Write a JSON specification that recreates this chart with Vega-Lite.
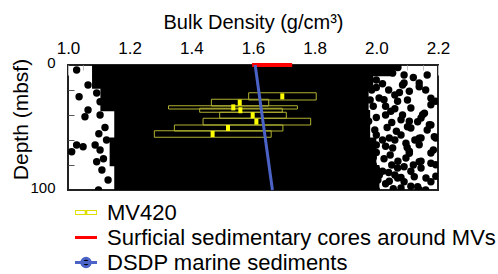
{
  "$schema": "https://vega.github.io/schema/vega-lite/v6.json",
  "width": 370,
  "height": 125,
  "autosize": {"type": "none"},
  "padding": {"left": 68, "top": 65, "right": 60, "bottom": 84},
  "background": "white",
  "config": {
    "font": "Liberation Sans",
    "view": {"stroke": "#222222", "strokeWidth": 2},
    "axis": {
      "domain": false,
      "grid": false,
      "zindex": 1,
      "tickColor": "#c0c0c0",
      "tickWidth": 1,
      "labelColor": "#000000",
      "titleColor": "#000000",
      "titleFontWeight": "normal",
      "labelFont": "Liberation Sans",
      "titleFont": "Liberation Sans",
      "labelOverlap": false
    }
  },
  "datasets": {
    "core": [
      {"d1": 0, "d2": 9, "lo": 1.078, "hi": 2.06},
      {"d1": 8, "d2": 19, "lo": 1.078, "hi": 1.99},
      {"d1": 18, "d2": 37, "lo": 1.105, "hi": 1.975},
      {"d1": 36, "d2": 59, "lo": 1.15, "hi": 1.98},
      {"d1": 58, "d2": 81, "lo": 1.135, "hi": 2.0},
      {"d1": 80, "d2": 100, "lo": 1.15, "hi": 2.01}
    ],
    "dots": [
      {"bd": 1.028, "depth": 4}, {"bd": 1.065, "depth": 16}, {"bd": 1.036, "depth": 25.4},
      {"bd": 1.093, "depth": 22.4}, {"bd": 1.065, "depth": 36}, {"bd": 1.055, "depth": 41.4},
      {"bd": 1.104, "depth": 40}, {"bd": 1.028, "depth": 64}, {"bd": 1.049, "depth": 65.4},
      {"bd": 1.088, "depth": 64}, {"bd": 1.104, "depth": 68}, {"bd": 1.093, "depth": 77.4},
      {"bd": 1.012, "depth": 69.4}, {"bd": 1.11, "depth": 84}, {"bd": 1.099, "depth": 100},
      {"bd": 1.104, "depth": 29.4}, {"bd": 1.12, "depth": 50}, {"bd": 1.125, "depth": 60},
      {"bd": 1.13, "depth": 92}, {"bd": 1.1, "depth": 55}, {"bd": 1.115, "depth": 75},
      {"bd": 2.031, "depth": 5}, {"bd": 2.053, "depth": 6.4}, {"bd": 2.09, "depth": 14.4},
      {"bd": 2.139, "depth": 14.4}, {"bd": 2.107, "depth": 21}, {"bd": 2.193, "depth": 29},
      {"bd": 2.177, "depth": 31.8}, {"bd": 2.15, "depth": 39.8}, {"bd": 2.112, "depth": 34.4},
      {"bd": 2.069, "depth": 29}, {"bd": 2.047, "depth": 37}, {"bd": 2.025, "depth": 27.8},
      {"bd": 2.009, "depth": 26.4}, {"bd": 2.08, "depth": 43.8}, {"bd": 2.107, "depth": 45},
      {"bd": 2.145, "depth": 42.4}, {"bd": 2.172, "depth": 47.8}, {"bd": 2.112, "depth": 50.4},
      {"bd": 2.145, "depth": 58.4}, {"bd": 2.193, "depth": 58.4}, {"bd": 2.139, "depth": 63.8},
      {"bd": 2.107, "depth": 69}, {"bd": 2.053, "depth": 66.4}, {"bd": 2.042, "depth": 58.4},
      {"bd": 2.177, "depth": 70.4}, {"bd": 2.145, "depth": 77}, {"bd": 2.096, "depth": 74.4},
      {"bd": 2.145, "depth": 82.4}, {"bd": 2.193, "depth": 79.8}, {"bd": 2.069, "depth": 82.4},
      {"bd": 2.112, "depth": 85}, {"bd": 2.161, "depth": 90.4}, {"bd": 2.112, "depth": 97},
      {"bd": 2.139, "depth": 99.8}, {"bd": 2.08, "depth": 98.4}, {"bd": 2.042, "depth": 93},
      {"bd": 2.069, "depth": 90.4}, {"bd": 2.193, "depth": 89}, {"bd": 2.085, "depth": 16},
      {"bd": 2.139, "depth": 17.4}, {"bd": 2.177, "depth": 26.6}, {"bd": 2.101, "depth": 28},
      {"bd": 2.156, "depth": 38.6}, {"bd": 2.085, "depth": 40}, {"bd": 2.134, "depth": 45.4},
      {"bd": 2.177, "depth": 48}, {"bd": 2.101, "depth": 49.4}, {"bd": 2.139, "depth": 58.6},
      {"bd": 2.188, "depth": 57.4}, {"bd": 2.096, "depth": 62.6}, {"bd": 2.107, "depth": 70.6},
      {"bd": 2.139, "depth": 77.4}, {"bd": 2.177, "depth": 78.6}, {"bd": 2.09, "depth": 81.4},
      {"bd": 2.123, "depth": 89.4}, {"bd": 2.09, "depth": 93.4}, {"bd": 2.177, "depth": 93.4},
      {"bd": 2.134, "depth": 97.4}, {"bd": 1.975, "depth": 10}, {"bd": 1.985, "depth": 20},
      {"bd": 1.99, "depth": 33}, {"bd": 1.975, "depth": 45}, {"bd": 1.995, "depth": 52},
      {"bd": 1.98, "depth": 62}, {"bd": 2.0, "depth": 70}, {"bd": 1.99, "depth": 80},
      {"bd": 2.01, "depth": 88}, {"bd": 1.995, "depth": 96}, {"bd": 2.02, "depth": 15},
      {"bd": 2.03, "depth": 40}, {"bd": 2.025, "depth": 75}, {"bd": 2.035, "depth": 50},
      {"bd": 2.02, "depth": 85}, {"bd": 2.05, "depth": 3}, {"bd": 2.0, "depth": 12},
      {"bd": 2.06, "depth": 24}, {"bd": 1.98, "depth": 28}, {"bd": 2.05, "depth": 46},
      {"bd": 2.0, "depth": 56}, {"bd": 2.06, "depth": 60}, {"bd": 2.03, "depth": 65},
      {"bd": 1.99, "depth": 74}, {"bd": 2.05, "depth": 80}, {"bd": 2.03, "depth": 95},
      {"bd": 2.06, "depth": 88}, {"bd": 2.0, "depth": 100},
      {"bd": 2.07, "depth": 2}, {"bd": 2.09, "depth": 8}, {"bd": 2.0, "depth": 18},
      {"bd": 2.04, "depth": 20}, {"bd": 2.075, "depth": 22}, {"bd": 2.03, "depth": 33},
      {"bd": 2.06, "depth": 35}, {"bd": 2.0, "depth": 42}, {"bd": 2.065, "depth": 53},
      {"bd": 2.02, "depth": 60}, {"bd": 2.08, "depth": 56}, {"bd": 2.0, "depth": 64},
      {"bd": 2.045, "depth": 72}, {"bd": 2.07, "depth": 77}, {"bd": 2.0, "depth": 83},
      {"bd": 2.04, "depth": 86}, {"bd": 2.08, "depth": 90}, {"bd": 2.005, "depth": 92},
      {"bd": 2.055, "depth": 99}, {"bd": 2.1, "depth": 66}, {"bd": 2.12, "depth": 10},
      {"bd": 2.165, "depth": 8}, {"bd": 2.16, "depth": 20}, {"bd": 2.125, "depth": 60},
      {"bd": 2.12, "depth": 80}, {"bd": 2.16, "depth": 100}, {"bd": 2.185, "depth": 68},
      {"bd": 2.165, "depth": 52}
    ],
    "mv420": [
      {"series": "MV420", "lo": 1.586, "hi": 1.805, "top": 22.2, "bot": 28, "bd": 1.695, "depth": 25.1},
      {"series": "MV420", "lo": 1.465, "hi": 1.651, "top": 27.4, "bot": 32.8, "bd": 1.557, "depth": 30.1},
      {"series": "MV420", "lo": 1.326, "hi": 1.744, "top": 32.6, "bot": 35.2, "bd": 1.536, "depth": 33.9},
      {"series": "MV420", "lo": 1.427, "hi": 1.695, "top": 34.6, "bot": 37.8, "bd": 1.559, "depth": 36.2},
      {"series": "MV420", "lo": 1.492, "hi": 1.708, "top": 37.8, "bot": 42.6, "bd": 1.599, "depth": 40.2},
      {"series": "MV420", "lo": 1.438, "hi": 1.787, "top": 42.6, "bot": 48, "bd": 1.611, "depth": 45.3},
      {"series": "MV420", "lo": 1.345, "hi": 1.697, "top": 48, "bot": 52.8, "bd": 1.519, "depth": 50.4},
      {"series": "MV420", "lo": 1.28, "hi": 1.659, "top": 52.6, "bot": 57.8, "bd": 1.469, "depth": 55.2}
    ],
    "surf": [
      {"series": "Surficial sedimentary cores around MVs", "lo": 1.597, "hi": 1.727, "depth": 0}
    ],
    "fit": [
      {"series": "DSDP marine sediments", "bd": 1.607, "depth": 0},
      {"series": "DSDP marine sediments", "bd": 1.663, "depth": 100}
    ]
  },
  "resolve": {"axis": {"x": "independent", "y": "independent"}},
  "layer": [
    {
      "data": {"name": "core"},
      "mark": {"type": "rect", "color": "#000000"},
      "encoding": {
        "x": {
          "field": "lo", "type": "quantitative",
          "scale": {"domain": [1.0, 2.2], "nice": false, "zero": false},
          "axis": {
            "orient": "top",
            "values": [1.0, 1.2, 1.4, 1.6, 1.8, 2.0, 2.2],
            "format": ".1f",
            "offset": -10,
            "tickSize": 10,
            "labelPadding": 8,
            "labelFontSize": 17,
            "labelFlush": false,
            "labelOverlap": false,
            "title": "Bulk Density (g/cm³)",
            "titleFontSize": 20,
            "titlePadding": 7
          }
        },
        "x2": {"field": "hi"},
        "y": {
          "field": "d1", "type": "quantitative",
          "scale": {"domain": [0, 100], "reverse": true, "nice": false, "zero": false},
          "axis": {
            "orient": "left",
            "values": [0, 100],
            "ticks": false,
            "labelPadding": 13,
            "labelFontSize": 15,
            "labelOffset": -3,
            "labelOverlap": false,
            "labelFlush": false,
            "title": "Depth (mbsf)",
            "titleFontSize": 21,
            "titlePadding": -2,
            "titleY": 54
          }
        },
        "y2": {"field": "d2"}
      }
    },
    {
      "data": {"name": "dots"},
      "mark": {"type": "point", "shape": "circle", "filled": true, "size": 55, "color": "#000000", "opacity": 1, "clip": true},
      "encoding": {
        "x": {
          "field": "bd", "type": "quantitative",
          "axis": {
            "orient": "top",
            "values": [1.05, 1.1, 1.15, 1.25, 1.3, 1.35, 1.45, 1.5, 1.55, 1.65, 1.7, 1.75, 1.85, 1.9, 1.95, 2.05, 2.1, 2.15],
            "offset": -5,
            "tickSize": 5,
            "labels": false,
            "title": null
          }
        },
        "y": {
          "field": "depth", "type": "quantitative",
          "axis": {
            "orient": "left",
            "values": [20, 40, 60, 80],
            "offset": -6,
            "tickSize": 6,
            "tickColor": "#555555",
            "labels": false,
            "title": null
          }
        }
      }
    },
    {
      "data": {"name": "mv420"},
      "mark": {"type": "rect", "filled": false, "strokeWidth": 1, "opacity": 1},
      "encoding": {
        "x": {"field": "lo", "type": "quantitative", "axis": null},
        "x2": {"field": "hi"},
        "y": {"field": "top", "type": "quantitative", "axis": null},
        "y2": {"field": "bot"},
        "color": {
          "field": "series", "type": "nominal",
          "scale": {
            "domain": ["MV420", "Surficial sedimentary cores around MVs", "DSDP marine sediments"],
            "range": ["#b0b030", "#ff0000", "#4b63c6"]
          },
          "legend": {
            "orient": "none",
            "legendX": 7,
            "legendY": 135,
            "title": null,
            "direction": "vertical",
            "padding": 0,
            "symbolSize": 484,
            "clipHeight": 25,
            "symbolType": {"expr": "datum.value == 'MV420' ? 'M-1,-0.22H1V0.22H-1ZM-0.92,-0.14V0.14H0.92V-0.14ZM-0.12,-0.22H0.12V0.22H-0.12Z' : datum.value == 'DSDP marine sediments' ? 'M-1,0H1M-0.38,0A0.38,0.38 0 1,1 0.38,0A0.38,0.38 0 1,1 -0.38,0Z' : 'stroke'"},
            "symbolFillColor": {"expr": "datum.value == 'MV420' ? '#e0e000' : datum.value == 'DSDP marine sediments' ? '#000000' : 'transparent'"},
            "symbolStrokeColor": {"expr": "datum.value == 'MV420' ? 'transparent' : datum.value == 'DSDP marine sediments' ? '#0000ff' : '#ff0000'"},
            "symbolStrokeWidth": {"expr": "datum.value == 'MV420' ? 0 : 3"},
            "symbolOpacity": 1,
            "labelFontSize": 22,
            "labelFont": "Liberation Sans",
            "labelColor": "#000000",
            "labelLimit": 500,
            "labelOffset": 10,
            "rowPadding": 0
          }
        }
      }
    },
    {
      "data": {"name": "surf"},
      "mark": {"type": "rule", "strokeWidth": 4},
      "encoding": {
        "x": {"field": "lo", "type": "quantitative", "axis": null},
        "x2": {"field": "hi"},
        "y": {"field": "depth", "type": "quantitative", "axis": null},
        "color": {"field": "series", "type": "nominal"}
      }
    },
    {
      "data": {"name": "fit"},
      "mark": {"type": "line", "strokeWidth": 3},
      "encoding": {
        "x": {"field": "bd", "type": "quantitative", "axis": null},
        "y": {"field": "depth", "type": "quantitative", "axis": null},
        "color": {"field": "series", "type": "nominal"},
        "order": {"field": "depth"}
      }
    },
    {
      "data": {"name": "mv420"},
      "mark": {"type": "tick", "orient": "vertical", "thickness": 4, "size": 6, "color": "#ffff00", "opacity": 1},
      "encoding": {
        "x": {"field": "bd", "type": "quantitative", "axis": null},
        "y": {"field": "depth", "type": "quantitative", "axis": null}
      }
    }
  ]
}
